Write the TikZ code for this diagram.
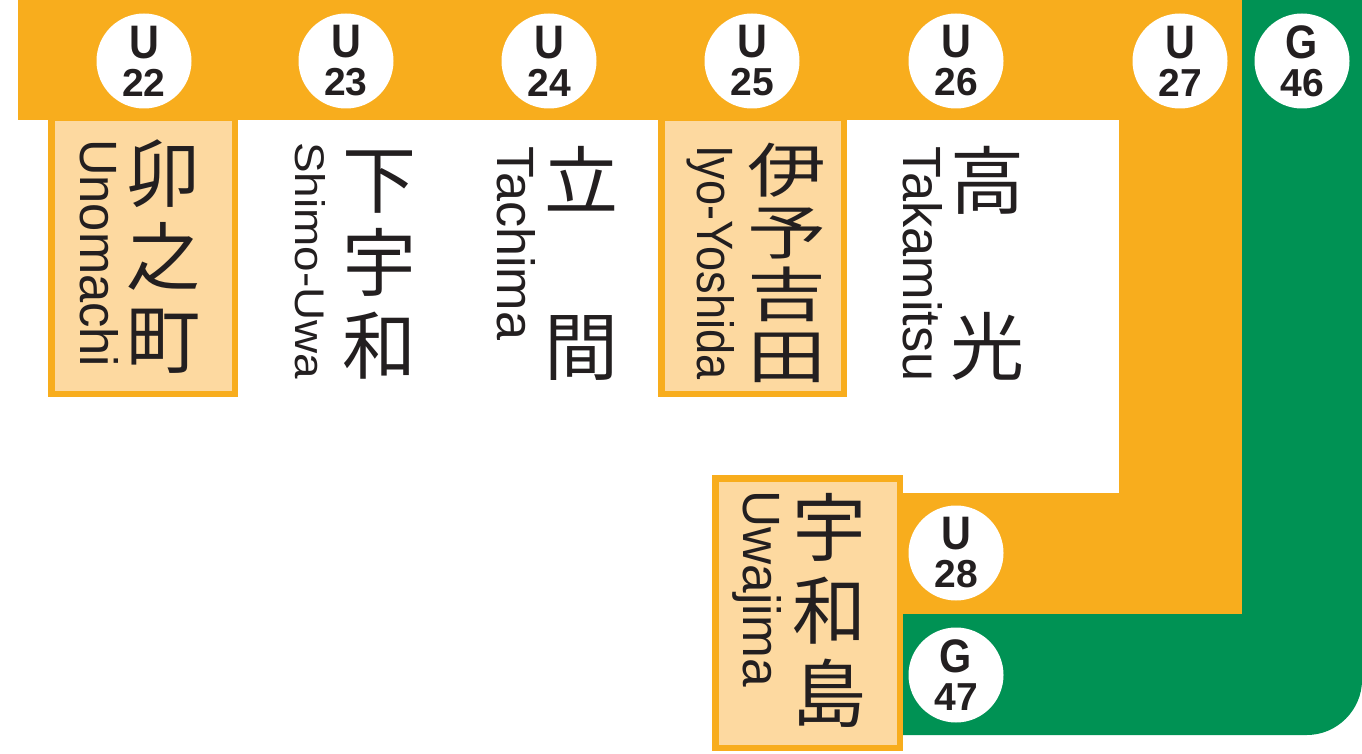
\documentclass[tikz,border=0pt]{standalone}
\usepackage{fontspec}
\setmainfont{Liberation Sans}
\newfontfamily\jpfont{Noto Sans CJK JP}
\newfontfamily\jpwide{Noto Sans CJK JP}[FakeStretch=1.34]
\usepackage{tikz}
\usetikzlibrary{shapes}
\definecolor{lineorange}{RGB}{248,173,29}
\definecolor{linegreen}{RGB}{0,146,84}
\definecolor{hlfill}{RGB}{253,217,160}
\definecolor{ink}{RGB}{35,31,32}
\newcommand\stnno[2]{\scalebox{0.88}[1]{\fontsize{47}{47}\selectfont #1}\\#2}
\tikzstyle{station}=[circle,fill=white,minimum size=95pt,inner sep=0pt,align=center,text=ink,font=\bfseries\fontsize{39}{38}\selectfont]
\tikzstyle{kanji}=[align=center,inner sep=0pt,text=ink,font=\jpfont\fontsize{74}{83}\selectfont]
\tikzstyle{kanjifour}=[align=center,inner sep=0pt,text=ink,font=\jpwide\fontsize{59}{62}\selectfont]
\tikzstyle{romaji}=[rotate=-90,anchor=base west,inner sep=0pt,text=ink]
\tikzstyle{hlbox}=[fill=hlfill,draw=lineorange,line width=6.5pt]

\begin{document}
\begin{tikzpicture}[x=1pt,y=-1pt]
        \useasboundingbox (0,0) rectangle (1362,754);
        \fill[lineorange] (18,0) -- (1242,0) -- (1242,614) -- (902,614) -- (902,493) -- (1119,493) -- (1119,120) -- (18,120) -- cycle;
        \fill[linegreen] (1242,0) -- (1362,0) -- (1362,680) .. controls (1362,710) and (1337,735) .. (1307,735) -- (902,735) -- (902,614) -- (1242,614) -- cycle;
        \draw[hlbox] (51.25,118) rectangle (234.75,393.75);
        \draw[hlbox] (661.25,118) rectangle (843.75,393.75);
        \draw[hlbox] (715.25,478.25) rectangle (899.75,747.75);
        \node[station] (u22) at (144,61) {\stnno{U}{22}};
        \node[station] (u23) at (346,61) {\stnno{U}{23}};
        \node[station] (u24) at (549,61) {\stnno{U}{24}};
        \node[station] (u25) at (752,61) {\stnno{U}{25}};
        \node[station] (u26) at (956,61) {\stnno{U}{26}};
        \node[station] (u27) at (1180,61) {\stnno{U}{27}};
        \node[station] (g46) at (1302,61) {\stnno{G}{46}};
        \node[station] (u28) at (956,553) {\stnno{U}{28}};
        \node[station] (g47) at (956,675) {\stnno{G}{47}};
        \node[kanji] (unomachi-jp) at (163,257) {卯\\之\\町};
        \node[kanji] (shimouwa-jp) at (379,265) {下\\宇\\和};
        \node[kanji] (tachima-jp) at (581,263) {立\\[83pt]間};
        \node[kanjifour] (iyoyoshida-jp) at (787,263) {伊\\予\\吉\\田};
        \node[kanji] (takamitsu-jp) at (987,263) {高\\[83pt]光};
        \node[kanji] (uwajima-jp) at (829,610) {宇\\和\\島};
        \node[romaji] (unomachi) at (80,139) {\resizebox{228pt}{38pt}{Unomachi}};
        \node[romaji] (shimouwa) at (295,142) {\resizebox{237pt}{30pt}{Shimo-Uwa}};
        \node[romaji] (tachima) at (497,146) {\resizebox{194pt}{38pt}{Tachima}};
        \node[romaji] (iyoyoshida) at (697,145) {\resizebox{234pt}{37pt}{Iyo-Yoshida}};
        \node[romaji] (takamitsu) at (903,146) {\resizebox{235pt}{39pt}{Takamitsu}};
        \node[romaji] (uwajima) at (743,490) {\resizebox{197pt}{38pt}{Uwajima}};
      \end{tikzpicture}
\end{document}
